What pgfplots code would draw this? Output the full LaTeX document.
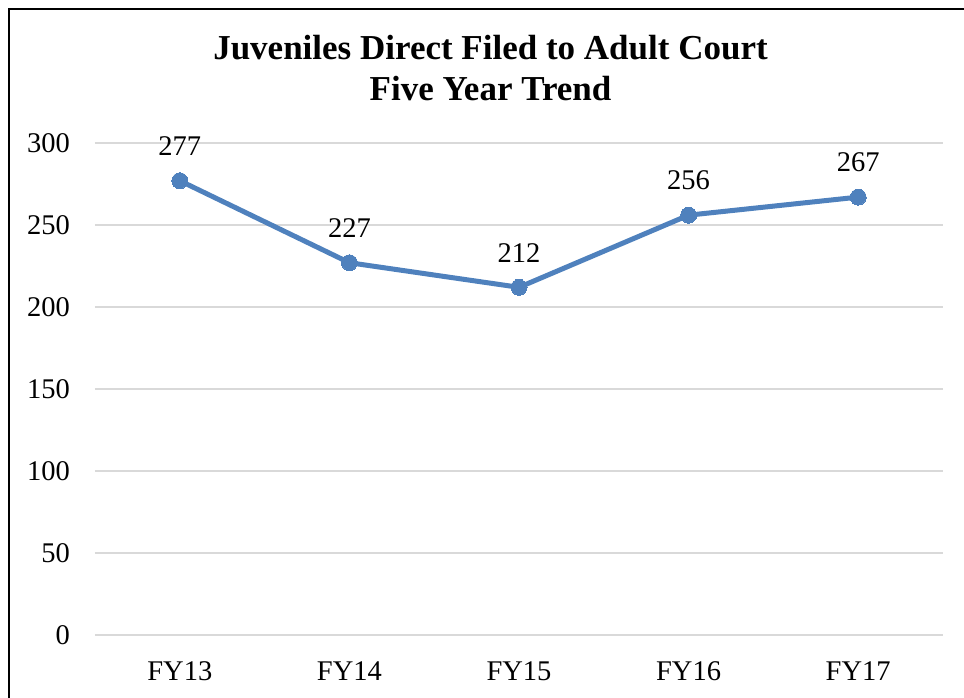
\documentclass[border=0pt]{standalone}
\usepackage{pgfplots}
\pgfplotsset{compat=1.18}
\usepackage{fontspec}
\setmainfont{Liberation Serif}
\definecolor{lineblue}{RGB}{79,129,189}
\definecolor{gridgray}{RGB}{217,217,217}
\begin{document}
\begin{tikzpicture}[x=1pt,y=1pt]
\useasboundingbox (0,0) rectangle (964,-698);
\draw[line width=2.5pt, black] (8.8,-698) -- (8.8,-8.8) -- (964,-8.8);
\node[anchor=base, font=\fontsize{35}{40}\selectfont\bfseries] at (490.5,-60) {Juveniles Direct Filed to Adult Court};
\node[anchor=base, font=\fontsize{35}{40}\selectfont\bfseries] at (490.5,-101) {Five Year Trend};
\begin{axis}[
  at={(95pt,-635pt)}, anchor=south west,
  scale only axis, width=848pt, height=492pt,
  xmin=-0.5, xmax=4.5, ymin=0, ymax=300,
  xtick={0,1,2,3,4},
  xticklabels={FY13,FY14,FY15,FY16,FY17},
  ytick={0,50,100,150,200,250,300},
  axis line style={draw=none},
  major tick length=0pt,
  ymajorgrids, grid style={gridgray, line width=2pt},
  tick label style={font=\fontsize{28.5}{32}\selectfont, inner sep=0pt},
  /pgf/number format/assume math mode=true,
  yticklabel style={anchor=east, xshift=-25pt},
  xticklabel style={anchor=north, yshift=-26pt},
  clip=false,
]
\addplot[color=lineblue, line width=5pt, mark=*, mark size=8pt,
  mark options={fill=lineblue, draw=lineblue, line width=0pt},
  nodes near coords,
  every node near coord/.append style={font=\fontsize{28.5}{32}\selectfont, text=black, anchor=south, inner sep=0pt, yshift=25pt},
] coordinates {(0,277) (1,227) (2,212) (3,256) (4,267)};
\end{axis}
\end{tikzpicture}
\end{document}
